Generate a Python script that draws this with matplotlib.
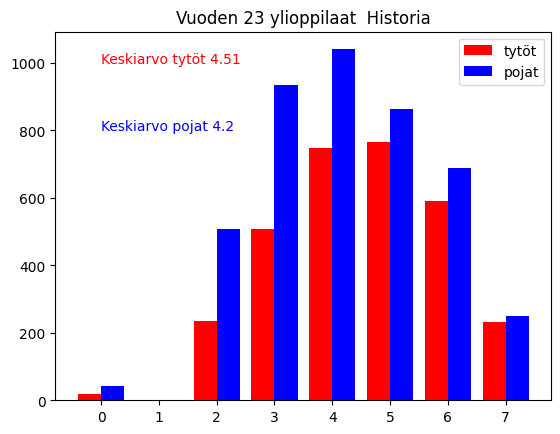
import matplotlib
matplotlib.use("Agg")
import matplotlib.pyplot as plt
import numpy as np

grades = [0, 1, 2, 3, 4, 5, 6, 7]
tytot = [18, 0, 234, 507, 748, 765, 590, 231]
pojat = [41, 0, 507, 934, 1041, 863, 688, 249]
title = "Vuoden 23 ylioppilaat  Historia"
mean_tytot = 4.51
mean_pojat = 4.2

fig = plt.figure(figsize=(5.6, 4.35), dpi=100)
ax = fig.add_axes([0.099, 0.078, 0.8855, 0.847])
x = np.array(grades)
w = 0.4
ax.bar(x - w / 2, tytot, width=w, color="red", label="tytöt")
ax.bar(x + w / 2, pojat, width=w, color="blue", label="pojat")
ax.set_xticks(grades)
ax.set_title(title)
ax.text(0, 1000, f"Keskiarvo tytöt {mean_tytot}", color="red")
ax.text(0, 800, f"Keskiarvo pojat {mean_pojat}", color="blue")
ax.legend(loc="upper right")
fig.savefig("out.png", dpi=100)
